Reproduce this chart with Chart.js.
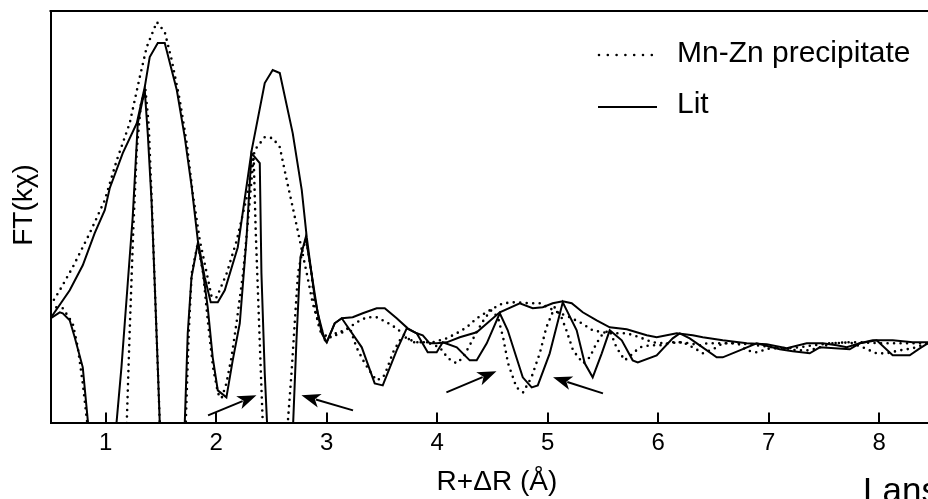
<!DOCTYPE html>
<html>
<head>
<meta charset="utf-8">
<script src="https://cdn.jsdelivr.net/npm/chart.js@4.4.0/dist/chart.umd.min.js"></script>
<style>
    html, body { margin: 0; padding: 0; overflow: hidden; background: #fff; }
    #wrap { position: absolute; left: 0; top: 0; width: 950px; height: 499px; }
</style>
</head>
<body>
<div id="wrap"><canvas id="ftChart" width="950" height="499"></canvas></div>
<script>
// Valores dos ticks do eixo X (R+ΔR em Å)
const xTicks = [1, 2, 3, 4, 5, 6, 7, 8];

// Lit: magnitude da FT  [R, FT]
const litMag = [[0.50,1.05],[0.674,1.33],[0.792,1.58],[0.900,1.90],[0.991,2.13],[1.036,2.35],[1.154,2.70],[1.281,3.00],[1.353,3.36],[1.398,3.66],[1.471,3.80],[1.534,3.80],[1.643,3.33],[1.715,2.86],[1.778,2.36],[1.833,1.83],[1.896,1.46],[1.950,1.21],[2.014,1.21],[2.077,1.33],[2.195,1.76],[2.321,2.73],[2.439,3.40],[2.511,3.53],[2.575,3.50],[2.692,2.90],[2.774,2.33],[2.819,1.86],[2.891,1.26],[2.955,0.90],[3.000,0.81],[3.072,1.00],[3.136,1.05],[3.235,1.06],[3.326,1.10],[3.452,1.15],[3.525,1.15],[3.633,1.05],[3.733,0.95],[3.814,0.90],[3.869,0.88],[3.932,0.80],[3.995,0.80],[4.086,0.81],[4.204,0.86],[4.357,0.91],[4.566,1.11],[4.747,1.20],[4.864,1.15],[4.955,1.16],[5.045,1.20],[5.136,1.22],[5.217,1.20],[5.317,1.11],[5.443,1.03],[5.561,0.96],[5.715,0.94],[5.896,0.88],[5.986,0.86],[6.167,0.90],[6.312,0.88],[6.403,0.86],[6.584,0.83],[6.801,0.80],[6.982,0.79],[7.163,0.75],[7.344,0.80],[7.489,0.80],[7.615,0.78],[7.706,0.76],[7.824,0.80],[7.941,0.83],[8.122,0.83],[8.303,0.81],[8.439,0.81],[8.575,0.81]];

// Lit: parte imaginária (passa abaixo do eixo e é cortada)
const litIm = [[0.50,1.05],[0.584,1.11],[0.611,1.10],[0.674,1.03],[0.719,0.86],[0.792,0.56],[0.840,0],[0.964,-1.5],[1.097,0],[1.142,0.56],[1.199,1.40],[1.244,2.06],[1.290,3.00],[1.353,3.33],[1.380,2.90],[1.414,2.23],[1.443,1.40],[1.471,0.56],[1.489,0],[1.597,-1.5],[1.715,0],[1.742,0.90],[1.776,1.46],[1.833,1.80],[1.878,1.53],[1.923,1.16],[1.968,0.66],[2.014,0.33],[2.092,0.26],[2.149,0.63],[2.213,1.00],[2.273,1.83],[2.319,2.70],[2.394,2.60],[2.409,1.50],[2.439,0.50],[2.460,0],[2.575,-1.5],[2.696,0],[2.726,0.83],[2.762,1.66],[2.810,1.86],[2.862,1.50],[2.919,1.10],[2.982,0.83],[3.000,0.81],[3.072,1.00],[3.136,1.05],[3.317,0.76],[3.434,0.40],[3.507,0.38],[3.633,0.73],[3.724,0.95],[3.814,0.90],[3.914,0.71],[3.995,0.71],[4.050,0.81],[4.177,0.76],[4.294,0.63],[4.357,0.63],[4.448,0.80],[4.566,1.10],[4.638,0.93],[4.774,0.46],[4.855,0.36],[4.910,0.38],[5.018,0.70],[5.136,1.21],[5.262,0.93],[5.335,0.60],[5.407,0.46],[5.489,0.70],[5.561,0.93],[5.670,0.83],[5.769,0.63],[5.815,0.61],[5.986,0.68],[6.131,0.85],[6.195,0.90],[6.285,0.85],[6.376,0.78],[6.529,0.66],[6.584,0.66],[6.738,0.73],[6.891,0.80],[7.100,0.74],[7.217,0.72],[7.371,0.70],[7.462,0.76],[7.733,0.74],[7.824,0.80],[7.977,0.83],[8.122,0.68],[8.276,0.68],[8.367,0.75],[8.439,0.80],[8.575,0.83]];

// Mn-Zn precipitate: magnitude
const mnzMag = [[0.50,1.18],[0.584,1.33],[0.701,1.56],[0.855,1.90],[0.991,2.23],[1.100,2.63],[1.217,3.00],[1.308,3.46],[1.371,3.76],[1.462,4.01],[1.534,3.91],[1.597,3.63],[1.670,3.23],[1.733,2.80],[1.787,2.30],[1.851,1.83],[1.914,1.50],[1.959,1.26],[2.005,1.26],[2.095,1.50],[2.186,1.83],[2.276,2.26],[2.348,2.73],[2.439,2.86],[2.511,2.85],[2.575,2.76],[2.638,2.43],[2.692,2.16],[2.756,1.83],[2.819,1.50],[2.873,1.20],[2.937,0.96],[3.009,0.85],[3.072,0.90],[3.145,0.91],[3.271,1.01],[3.362,1.06],[3.452,1.06],[3.543,1.01],[3.633,0.95],[3.724,0.86],[3.778,0.81],[3.905,0.81],[3.959,0.81],[4.086,0.85],[4.176,0.90],[4.267,0.96],[4.357,1.05],[4.475,1.13],[4.593,1.20],[4.701,1.21],[4.837,1.20],[4.928,1.20],[5.018,1.15],[5.090,1.11],[5.199,1.06],[5.308,1.00],[5.407,0.93],[5.498,0.91],[5.606,0.90],[5.715,0.90],[5.833,0.86],[5.950,0.81],[6.077,0.80],[6.195,0.81],[6.285,0.80],[6.376,0.78],[6.439,0.80],[6.584,0.80],[6.738,0.80],[6.891,0.78],[7.036,0.76],[7.163,0.75],[7.281,0.76],[7.398,0.78],[7.552,0.80],[7.706,0.81],[7.851,0.81],[8.005,0.80],[8.158,0.80],[8.303,0.80],[8.439,0.80],[8.575,0.80]];

// Mn-Zn precipitate: parte imaginária
const mnzIm = [[0.50,1.13],[0.554,1.16],[0.611,1.15],[0.701,1.00],[0.747,0.76],[0.792,0.40],[0.833,0],[1.009,-1.5],[1.190,0],[1.217,0.93],[1.249,1.93],[1.281,2.73],[1.317,3.18],[1.358,3.35],[1.389,2.98],[1.416,2.23],[1.443,1.40],[1.471,0.56],[1.489,0],[1.606,-1.5],[1.724,0],[1.751,0.90],[1.778,1.50],[1.833,1.80],[1.881,1.50],[1.926,1.00],[1.971,0.56],[2.016,0.30],[2.048,0.25],[2.092,0.40],[2.138,0.66],[2.183,1.00],[2.243,1.50],[2.288,2.03],[2.319,2.43],[2.339,2.65],[2.357,1.93],[2.380,1.23],[2.403,0.53],[2.421,0],[2.529,-1.5],[2.647,0],[2.681,0.50],[2.710,1.00],[2.740,1.50],[2.786,1.76],[2.816,1.83],[2.862,1.50],[2.891,1.16],[2.937,0.93],[2.982,0.86],[3.057,0.86],[3.118,0.91],[3.208,0.96],[3.269,0.76],[3.344,0.60],[3.404,0.50],[3.450,0.43],[3.510,0.46],[3.540,0.53],[3.600,0.71],[3.661,0.83],[3.721,0.86],[3.796,0.81],[3.905,0.81],[4.023,0.76],[4.098,0.65],[4.174,0.60],[4.234,0.66],[4.294,0.78],[4.355,0.91],[4.430,1.05],[4.490,1.13],[4.550,1.06],[4.596,0.86],[4.641,0.60],[4.717,0.36],[4.777,0.31],[4.853,0.46],[4.928,0.70],[4.988,0.96],[5.063,1.16],[5.124,1.06],[5.169,0.93],[5.229,0.73],[5.320,0.60],[5.380,0.66],[5.441,0.80],[5.501,0.90],[5.561,0.93],[5.622,0.76],[5.697,0.63],[5.772,0.70],[5.833,0.76],[5.923,0.78],[6.014,0.78],[6.134,0.81],[6.225,0.81],[6.330,0.75],[6.406,0.70],[6.511,0.75],[6.584,0.80],[6.720,0.80],[6.798,0.73],[6.889,0.71],[7.009,0.75],[7.160,0.75],[7.251,0.73],[7.371,0.73],[7.462,0.76],[7.579,0.80],[7.733,0.81],[7.851,0.76],[7.975,0.70],[8.066,0.70],[8.186,0.73],[8.303,0.75],[8.439,0.80],[8.575,0.81]];

// Setas (origem -> ponta), em coordenadas dos dados
const arrowFrom = [[1.926,0.08],[3.238,0.13],[4.083,0.31],[5.500,0.30]];
const arrowTo   = [[2.364,0.28],[2.771,0.28],[4.536,0.52],[5.048,0.46]];

const FONT = '"Liberation Sans", Arial, Helvetica, sans-serif';
Chart.defaults.font.family = FONT;
Chart.defaults.color = '#000';

// Converte pares [x, y] em pontos do Chart.js
function toPoints(pairs) {
    return pairs.map(p => ({ x: p[0], y: p[1] }));
}

const dotted = { borderColor: '#000', borderWidth: 2.6, borderDash: [0, 6.5], borderCapStyle: 'round' };
const solid = { borderColor: '#000', borderWidth: 2, borderCapStyle: 'butt' };

// Plugin que desenha moldura superior, ticks internos, setas, legenda e textos
const extras = {
    id: 'extras',
    afterDraw(chart) {
        const { ctx, chartArea: a, scales: { x, y } } = chart;
        ctx.save();
        ctx.strokeStyle = '#000';
        ctx.fillStyle = '#000';
        ctx.lineWidth = 2;
        ctx.setLineDash([]);

        // linha superior da moldura
        ctx.beginPath();
        ctx.moveTo(a.left - 1, a.top);
        ctx.lineTo(a.right, a.top);
        ctx.stroke();

        // ticks voltados para dentro
        x.ticks.forEach(t => {
            const px = Math.round(x.getPixelForValue(t.value));
            ctx.beginPath();
            ctx.moveTo(px, a.bottom);
            ctx.lineTo(px, a.bottom - 11);
            ctx.stroke();
        });

        // setas
        arrowFrom.forEach((from, i) => {
            const x0 = x.getPixelForValue(from[0]), y0 = y.getPixelForValue(from[1]);
            const x1 = x.getPixelForValue(arrowTo[i][0]), y1 = y.getPixelForValue(arrowTo[i][1]);
            const ang = Math.atan2(y1 - y0, x1 - x0);
            const len = 19, half = 7;
            const bx = x1 - Math.cos(ang) * len, by = y1 - Math.sin(ang) * len;
            ctx.beginPath();
            ctx.moveTo(x0, y0);
            ctx.lineTo(bx + Math.cos(ang) * 4, by + Math.sin(ang) * 4);
            ctx.stroke();
            ctx.beginPath();
            ctx.moveTo(x1, y1);
            ctx.lineTo(bx - Math.sin(ang) * half, by + Math.cos(ang) * half);
            ctx.lineTo(bx + Math.cos(ang) * 5, by + Math.sin(ang) * 5);
            ctx.lineTo(bx + Math.sin(ang) * half, by - Math.cos(ang) * half);
            ctx.closePath();
            ctx.fill();
        });

        // legenda
        const ds = chart.data.datasets;
        ctx.font = '30px ' + FONT;
        ctx.textAlign = 'left';
        ctx.textBaseline = 'alphabetic';
        ctx.lineCap = 'round';
        ctx.lineWidth = 2.6;
        ctx.setLineDash([0, 8.8]);
        ctx.beginPath();
        ctx.moveTo(599, 55);
        ctx.lineTo(653, 55);
        ctx.stroke();
        ctx.fillText(ds[0].label, 677, 62);
        ctx.lineCap = 'butt';
        ctx.lineWidth = 2;
        ctx.setLineDash([]);
        ctx.beginPath();
        ctx.moveTo(598, 107);
        ctx.lineTo(657, 107);
        ctx.stroke();
        ctx.fillText(ds[2].label, 677, 113);

        // título do eixo Y
        ctx.save();
        ctx.translate(24, 205);
        ctx.rotate(-Math.PI / 2);
        ctx.font = '28px ' + FONT;
        ctx.textAlign = 'center';
        ctx.textBaseline = 'middle';
        ctx.fillText('FT(kχ)', 0, 0);
        ctx.restore();

        // texto cortado no canto inferior
        ctx.font = '35px ' + FONT;
        ctx.fillText('Lans', 863, 502);
        ctx.restore();
    }
};

const ctx = document.getElementById('ftChart').getContext('2d');
new Chart(ctx, {
    type: 'line',
    data: {
        datasets: [
            { label: 'Mn-Zn precipitate', data: toPoints(mnzMag), ...dotted },
            { label: 'Mn-Zn precipitate (Im)', data: toPoints(mnzIm), ...dotted },
            { label: 'Lit', data: toPoints(litMag), ...solid },
            { label: 'Lit (Im)', data: toPoints(litIm), ...solid }
        ]
    },
    options: {
        responsive: false,
        animation: false,
        devicePixelRatio: 1,
        clip: 0,
        elements: { point: { radius: 0 }, line: { tension: 0 } },
        layout: { padding: { left: 50.5, top: 11, right: 6.7, bottom: 0 } },
        plugins: { legend: { display: false }, tooltip: { enabled: false } },
        scales: {
            x: {
                type: 'linear',
                min: 0.5,
                max: 8.58,
                afterBuildTicks: scale => { scale.ticks = xTicks.map(v => ({ value: v })); },
                grid: { display: true, drawOnChartArea: false, drawTicks: false },
                border: { display: true, color: '#000', width: 2 },
                ticks: { font: { size: 24, lineHeight: 1 }, padding: 8, color: '#000', maxRotation: 0 },
                title: { display: true, text: 'R+ΔR (Å)', font: { size: 28, lineHeight: 1.2 }, padding: { top: 2, bottom: 0 }, color: '#000' }
            },
            y: {
                type: 'linear',
                min: 0,
                max: 4.12,
                grid: { display: true, drawOnChartArea: false, drawTicks: false },
                border: { display: true, color: '#000', width: 2 },
                ticks: { display: false }
            }
        }
    },
    plugins: [extras]
});
</script>
</body>
</html>
